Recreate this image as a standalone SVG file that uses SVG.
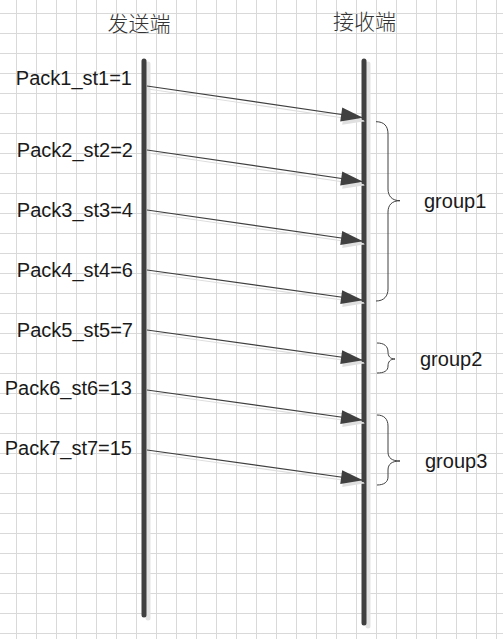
<svg xmlns="http://www.w3.org/2000/svg" width="503" height="639" viewBox="0 0 503 639">
  <style>
    .grid { stroke: #d9d9d9; stroke-width: 1; fill: none; }
    .life { stroke: #404040; stroke-width: 5; stroke-linecap: round; fill: none; }
    .lifeShadow { stroke: #e3e3e3; stroke-width: 5; stroke-linecap: round; fill: none; }
    .msg { stroke: #404040; stroke-width: 1.2; fill: none; }
    .msgShadow { stroke: #dedede; stroke-width: 1.2; fill: none; }
    .brace { stroke: #404040; stroke-width: 1; fill: none; }
    .lbl { font-family: "Liberation Sans", Arial, sans-serif; font-size: 20px; fill: #1a1a1a; }
    .head { font-family: "Noto Sans CJK SC", "Noto Sans", sans-serif; font-size: 21px; fill: #333333; text-anchor: middle; font-weight: 300; }
  </style>
  <defs>
    <marker id="ah" markerUnits="userSpaceOnUse" markerWidth="22" markerHeight="14" refX="21" refY="7" orient="auto" overflow="visible">
      <path d="M0,0 L22,7 L0,14 z" fill="#404040"/>
    </marker>
    <marker id="ahs" markerUnits="userSpaceOnUse" markerWidth="22" markerHeight="14" refX="21" refY="7" orient="auto" overflow="visible">
      <path d="M0,0 L22,7 L0,14 z" fill="#e0e0e0"/>
    </marker>
  </defs>
  <rect width="503" height="639" fill="#ffffff"/>
  <path class="grid" d="M16.5 0V639M36.5 0V639M56.5 0V639M76.5 0V639M96.5 0V639M116.5 0V639M136.5 0V639M156.5 0V639M176.5 0V639M196.5 0V639M216.5 0V639M236.5 0V639M256.5 0V639M276.5 0V639M296.5 0V639M316.5 0V639M336.5 0V639M356.5 0V639M376.5 0V639M396.5 0V639M416.5 0V639M436.5 0V639M456.5 0V639M476.5 0V639M496.5 0V639M0 13.5H503M0 33.5H503M0 53.5H503M0 73.5H503M0 93.5H503M0 113.5H503M0 133.5H503M0 153.5H503M0 173.5H503M0 193.5H503M0 213.5H503M0 233.5H503M0 253.5H503M0 273.5H503M0 293.5H503M0 313.5H503M0 333.5H503M0 353.5H503M0 373.5H503M0 393.5H503M0 413.5H503M0 433.5H503M0 453.5H503M0 473.5H503M0 493.5H503M0 513.5H503M0 533.5H503M0 553.5H503M0 573.5H503M0 593.5H503M0 613.5H503M0 633.5H503"/>

  <g id="sender">
    <line class="lifeShadow" x1="148" y1="64" x2="148" y2="618"/>
    <line class="life" x1="144" y1="61" x2="144" y2="615"/>
    <text class="head" x="139" y="31">发送端</text>
  </g>
  <g id="receiver">
    <line class="lifeShadow" x1="368" y1="64" x2="368" y2="626"/>
    <line class="life" x1="364" y1="61" x2="364" y2="623"/>
    <text class="head" x="364.5" y="29">接收端</text>
  </g>

  <g id="connectors">
    <g id="shadows">
      <line class="msgShadow" marker-end="url(#ahs)" x1="148" y1="89" x2="364" y2="121"/>
      <line class="msgShadow" marker-end="url(#ahs)" x1="148" y1="153" x2="364" y2="185"/>
      <line class="msgShadow" marker-end="url(#ahs)" x1="148" y1="213" x2="364" y2="244"/>
      <line class="msgShadow" marker-end="url(#ahs)" x1="148" y1="273" x2="364" y2="303"/>
      <line class="msgShadow" marker-end="url(#ahs)" x1="148" y1="333" x2="364" y2="363"/>
      <line class="msgShadow" marker-end="url(#ahs)" x1="148" y1="393" x2="364" y2="423"/>
      <line class="msgShadow" marker-end="url(#ahs)" x1="148" y1="453" x2="364" y2="483"/>
    </g>
    <line id="m1" class="msg" marker-end="url(#ah)" x1="147" y1="86" x2="362" y2="117.5"/>
    <line id="m2" class="msg" marker-end="url(#ah)" x1="147" y1="150" x2="362" y2="181.5"/>
    <line id="m3" class="msg" marker-end="url(#ah)" x1="147" y1="210" x2="362" y2="241"/>
    <line id="m4" class="msg" marker-end="url(#ah)" x1="147" y1="270" x2="362" y2="300"/>
    <line id="m5" class="msg" marker-end="url(#ah)" x1="147" y1="330" x2="362" y2="360"/>
    <line id="m6" class="msg" marker-end="url(#ah)" x1="147" y1="390" x2="362" y2="420"/>
    <line id="m7" class="msg" marker-end="url(#ah)" x1="147" y1="450" x2="362" y2="480"/>
  </g>

  <g id="pack-labels" text-anchor="end">
    <text class="lbl" x="132" y="85">Pack1_st1=1</text>
    <text class="lbl" x="133" y="157">Pack2_st2=2</text>
    <text class="lbl" x="133" y="217">Pack3_st3=4</text>
    <text class="lbl" x="133" y="277">Pack4_st4=6</text>
    <text class="lbl" x="133" y="337">Pack5_st5=7</text>
    <text class="lbl" x="132" y="395">Pack6_st6=13</text>
    <text class="lbl" x="132" y="455">Pack7_st7=15</text>
  </g>

  <g id="group1">
    <path class="brace" d="M376,121.7 C384,121.7 388,126 388,134 L388,189 C388,196 392,200.7 400,200.7 C392,200.7 388,205 388,212 L388,289 C388,296 384,301 376,301"/>
    <text class="lbl" x="424" y="208">group1</text>
  </g>
  <g id="group2">
    <path class="brace" d="M377,343 C384,343 388,346 388,352 C388,356 390,359 395,359 C390,359 388,362 388,366 C388,371 384,373 377,373"/>
    <text class="lbl" x="420" y="366">group2</text>
  </g>
  <g id="group3">
    <path class="brace" d="M377,415 C384,415 388,419 388,426 L388,452 C388,458 392,461 400,461 C392,461 388,464 388,470 L388,477 C388,482 384,485 377,485"/>
    <text class="lbl" x="425" y="468">group3</text>
  </g>
</svg>
